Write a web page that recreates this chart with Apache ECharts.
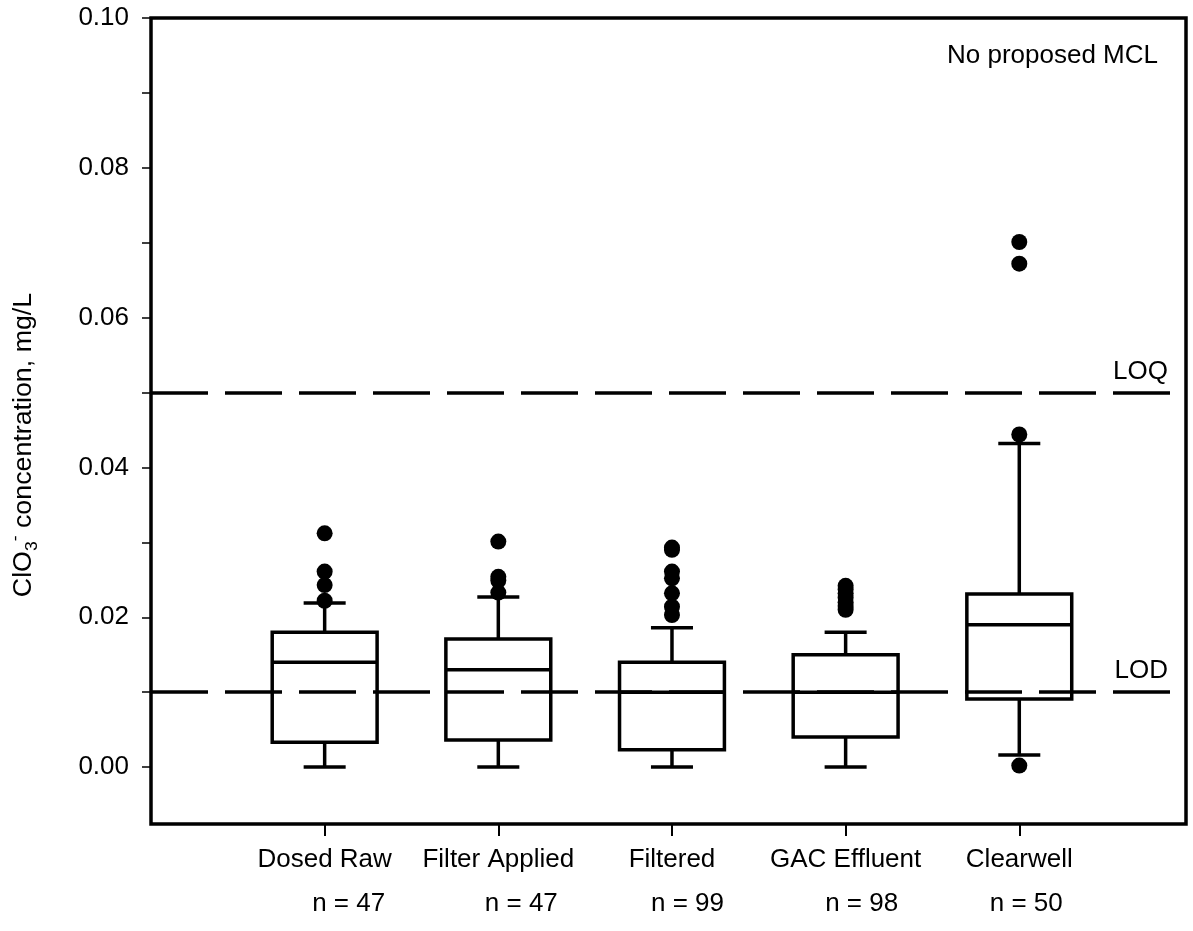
<!DOCTYPE html>
<html><head><meta charset="utf-8">
<script src="https://cdn.jsdelivr.net/npm/echarts@6/dist/echarts.min.js"></script>
<style>html,body{margin:0;padding:0;background:#fff}#c{width:1193px;height:931px}</style>
</head><body><div id="c"></div>
<script>
// ---- data ----
const categories = ['Dosed Raw', 'Filter Applied', 'Filtered', 'GAC Effluent', 'Clearwell'];
const sampleCounts = [47, 47, 99, 98, 50];
const whiskerLow = [0, 0, 0, 0, 0.0016];
const q1 = [0.0033, 0.0036, 0.0023, 0.0040, 0.0091];
const median = [0.0140, 0.0130, 0.0100, 0.0100, 0.0190];
const q3 = [0.0180, 0.0171, 0.0140, 0.0150, 0.0231];
const whiskerHigh = [0.0219, 0.0227, 0.0186, 0.0180, 0.0432];
const outliersDosedRaw = [0.0312, 0.0261, 0.0243, 0.0222];
const outliersFilterApplied = [0.0301, 0.0254, 0.0249, 0.0233];
const outliersFiltered = [0.0293, 0.0290, 0.0261, 0.0252, 0.0232, 0.0214, 0.0203];
const outliersGAC = [0.0242, 0.0237, 0.0232, 0.0226, 0.0220, 0.0215, 0.0210];
const outliersClearwell = [0.0701, 0.0672, 0.0444, 0.0002];
const yTickLabels = [0, 0.02, 0.04, 0.06, 0.08, 0.10];
const yTicks = [0, 0.01, 0.02, 0.03, 0.04, 0.05, 0.06, 0.07, 0.08, 0.09, 0.10];
const refLineNames = ['LOQ', 'LOD'];
const refLineValues = [0.05, 0.01];
const noteText = 'No proposed MCL';
const yTitleParts = ['ClO', '3', '-', ' concentration, mg/L'];

// ---- build ----
const outliers = [outliersDosedRaw, outliersFilterApplied, outliersFiltered, outliersGAC, outliersClearwell];
const positions = categories.map((c, i) => i + 1);
const boxData = categories.map((c, i) => [positions[i], whiskerLow[i], q1[i], median[i], q3[i], whiskerHigh[i]]);
const outlierData = [];
outliers.forEach((arr, i) => arr.forEach(v => outlierData.push([positions[i], v])));

const BOX_W = 0.604, CAP_W = 0.242;
const FONT = "'Liberation Sans', Arial, sans-serif";
const FS = 26;
const LW = 3.5;

const nPad = [48, 46, 31, 32, 14];
const rich = { c: { fontSize: FS, fontFamily: FONT, color: '#000', lineHeight: 44 } };
nPad.forEach((p, i) => { rich['n' + i] = { fontSize: FS, fontFamily: FONT, color: '#000', lineHeight: 44, padding: [0, 0, 0, p] }; });

const chart = echarts.init(document.getElementById('c'));
chart.setOption({
  animation: false,
  backgroundColor: '#fff',
  title: {
    text: noteText, right: 35, top: 43, padding: 0,
    textStyle: { fontSize: FS, fontWeight: 'normal', fontFamily: FONT, color: '#000' }
  },
  graphic: [{
    type: 'text', x: 24, y: 445, rotation: Math.PI / 2, scaleX: 1.03, scaleY: 1,
    silent: true,
    style: {
      text: '{a|' + yTitleParts[0] + '}{sub|' + yTitleParts[1] + '}{sup|' + yTitleParts[2] + '}{a|' + yTitleParts[3] + '}',
      align: 'center', verticalAlign: 'middle', fill: '#000',
      fontSize: FS, fontFamily: FONT,
      rich: {
        a: { fontSize: FS, fontFamily: FONT, fill: '#000', color: '#000', lineHeight: 34, verticalAlign: 'middle' },
        sub: { fontSize: 17, fontFamily: FONT, fill: '#000', color: '#000', lineHeight: 34, verticalAlign: 'bottom' },
        sup: { fontSize: 17, fontFamily: FONT, fill: '#000', color: '#000', lineHeight: 34, verticalAlign: 'top' }
      }
    }
  }],
  grid: { left: 151, right: 7, top: 18, bottom: 107, show: true, borderColor: '#000', borderWidth: 3.5, backgroundColor: 'transparent' },
  xAxis: {
    type: 'value', min: 0, max: 5.96,
    axisLine: { show: false, onZero: false },
    splitLine: { show: false },
    axisTick: { show: true, customValues: positions, length: 12, lineStyle: { color: '#000', width: 2 } },
    axisLabel: {
      customValues: positions, margin: 14, color: '#000', fontFamily: FONT, fontSize: FS,
      formatter: function (v) {
        const i = Math.round(v) - 1;
        return '{c|' + categories[i] + '}\n{n' + i + '|n = ' + sampleCounts[i] + '}';
      },
      rich: rich
    }
  },
  yAxis: {
    type: 'value', min: -0.0076, max: 0.1,
    axisLine: { show: false, onZero: false },
    splitLine: { show: false },
    axisTick: { show: true, customValues: yTicks, length: 9, lineStyle: { color: '#000', width: 1.5 } },
    axisLabel: {
      customValues: yTickLabels, margin: 22, color: '#000', fontFamily: FONT, fontSize: FS,
      formatter: v => v.toFixed(2)
    }
  },
  series: [
    {
      type: 'custom',
      data: boxData,
      encode: { x: 0, y: [1, 2, 3, 4, 5] },
      clip: false,
      z: 3,
      renderItem: function (params, api) {
        const x = api.value(0);
        const pLo = api.coord([x, api.value(1)]);
        const pQ1 = api.coord([x, api.value(2)]);
        const pMed = api.coord([x, api.value(3)]);
        const pQ3 = api.coord([x, api.value(4)]);
        const pHi = api.coord([x, api.value(5)]);
        const bw = api.size([BOX_W, 0])[0];
        const cw = api.size([CAP_W, 0])[0];
        const cx = pMed[0];
        const st = { stroke: '#000', lineWidth: LW, fill: null };
        return {
          type: 'group', children: [
            { type: 'line', shape: { x1: cx, y1: pQ3[1], x2: cx, y2: pHi[1] }, style: st },
            { type: 'line', shape: { x1: cx - cw / 2, y1: pHi[1], x2: cx + cw / 2, y2: pHi[1] }, style: st },
            { type: 'line', shape: { x1: cx, y1: pQ1[1], x2: cx, y2: pLo[1] }, style: st },
            { type: 'line', shape: { x1: cx - cw / 2, y1: pLo[1], x2: cx + cw / 2, y2: pLo[1] }, style: st },
            { type: 'rect', shape: { x: cx - bw / 2, y: pQ3[1], width: bw, height: pQ1[1] - pQ3[1] }, style: st },
            { type: 'line', shape: { x1: cx - bw / 2, y1: pMed[1], x2: cx + bw / 2, y2: pMed[1] }, style: st }
          ]
        };
      }
    },
    {
      type: 'scatter',
      data: outlierData,
      symbol: 'circle', symbolSize: 16,
      itemStyle: { color: '#000', opacity: 1 },
      z: 4,
      markLine: {
        silent: true, symbol: ['none', 'none'],
        lineStyle: { color: '#000', width: LW, type: [57, 17], opacity: 1 },
        label: {
          show: true, position: 'insideEndTop', formatter: '{b}', distance: [18, 8],
          color: '#000', fontFamily: FONT, fontSize: FS
        },
        data: refLineNames.map((n, i) => ({ name: n, yAxis: refLineValues[i] }))
      }
    }
  ]
});
</script>
</body></html>
